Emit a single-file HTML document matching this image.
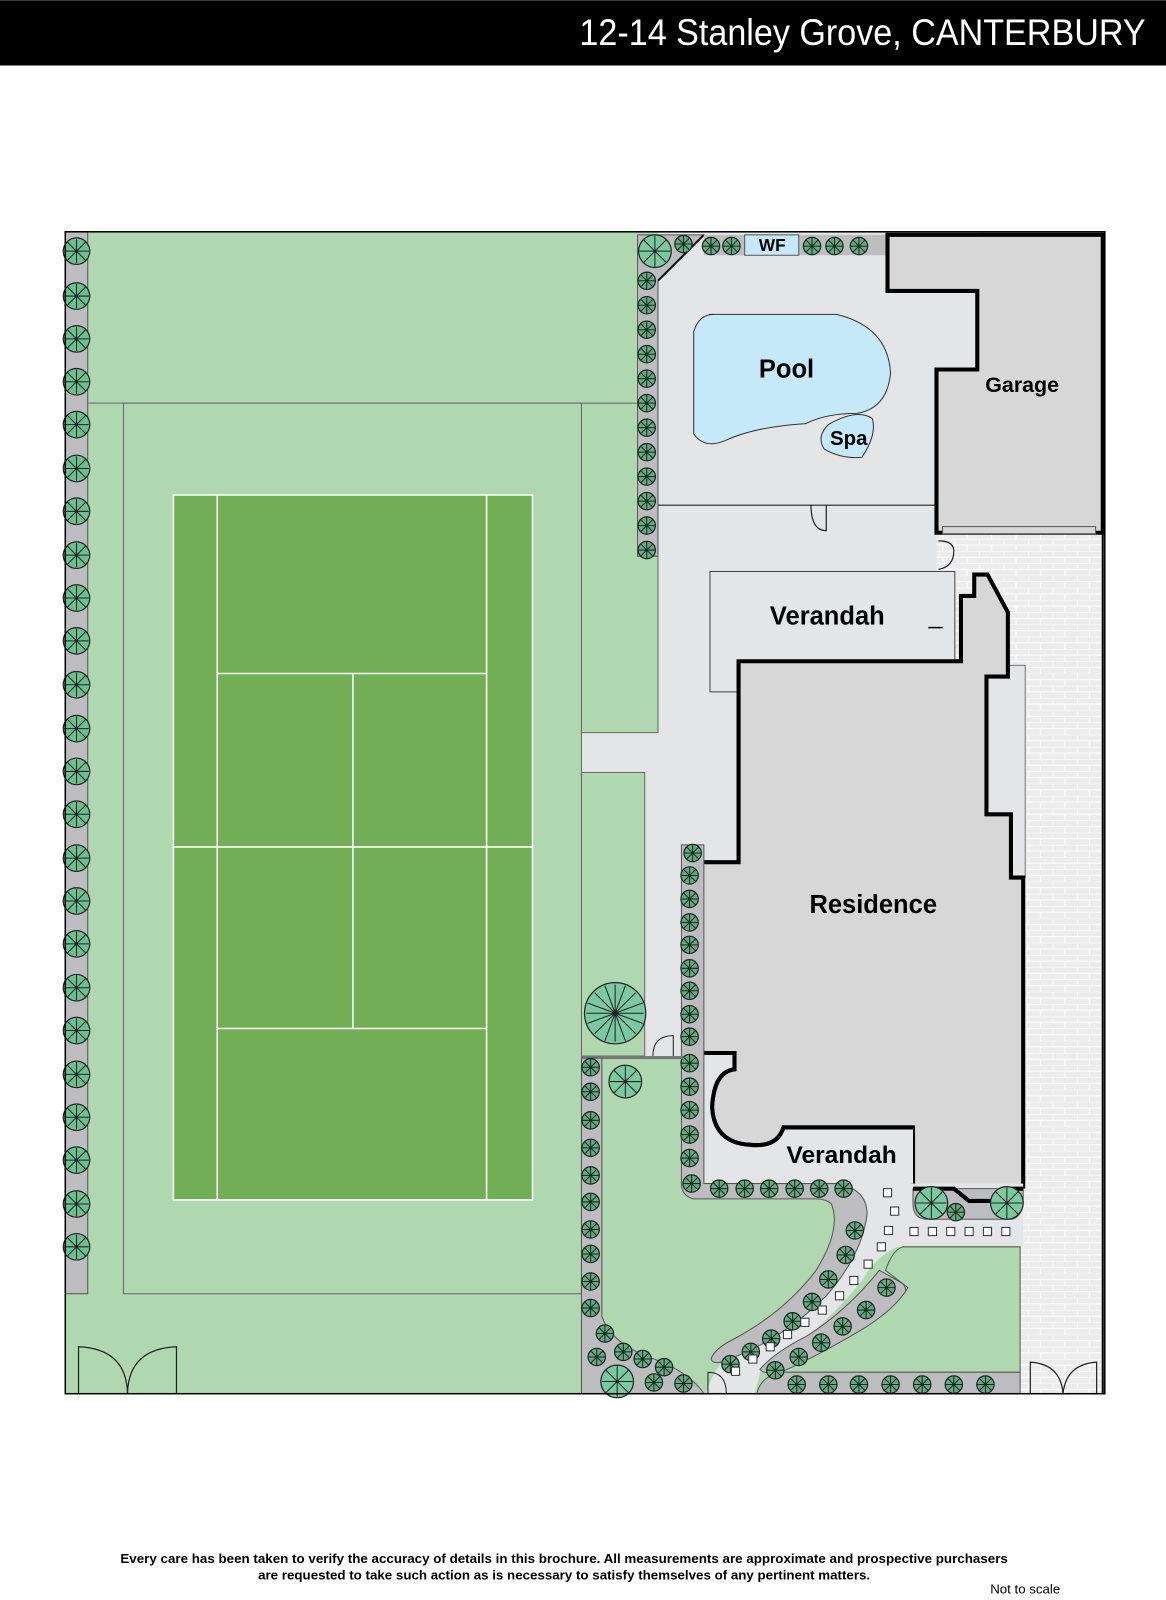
<!DOCTYPE html>
<html><head><meta charset="utf-8"><style>
html,body{margin:0;padding:0;background:#fff}
svg{display:block}
text{font-family:"Liberation Sans",sans-serif}
</style></head><body>
<svg width="1166" height="1600" viewBox="0 0 1143 1568" xmlns="http://www.w3.org/2000/svg">
<defs>
<g id="t"><circle r="8.5" fill="#5fae80" stroke="#222" stroke-width="1.2"/><path d="M0-8V8M-8 0H8M-6-6L6 6M-6 6L6-6" stroke="#222" stroke-width="1"/></g>
<g id="T"><circle r="30" fill="#7ac9a0" stroke="#222" stroke-width="1.2"/><path d="M0-28V28M-28 0H28M-20-20L20 20M-20 20L20-20M-10-27L10 27M-27-10L27 10M-27 10L27-10M-10 27L10-27" stroke="#222" stroke-width="1"/></g>
<g id="M"><circle r="16" fill="#7ac9a0" stroke="#222" stroke-width="1.2"/><path d="M0-15V15M-15 0H15M-11-11L11 11M-11 11L11-11" stroke="#222" stroke-width="1"/></g>
<g id="L"><circle r="13" fill="#6bbf90" stroke="#222" stroke-width="1.2"/><path d="M0-12V12M-12 0H12M-9-9L9 9M-9 9L9-9" stroke="#222" stroke-width="1"/></g>
<pattern id="brick" width="24" height="12" patternUnits="userSpaceOnUse"><rect width="24" height="12" fill="#ececed"/><path d="M0 0H24M0 6H24M0 0V6M12 6V12" stroke="#fff" stroke-width="1"/></pattern>
</defs>
<rect width="1143" height="64" fill="#000"/>
<text x="1123" y="44" fill="#fff" font-size="36" text-anchor="end" textLength="555" lengthAdjust="spacingAndGlyphs">12-14 Stanley Grove, CANTERBURY</text>

<rect x="64" y="227" width="1019" height="1139" fill="#b0d8b0"/>
<rect x="645" y="227" width="315" height="810" fill="#e4e5e6"/>
<rect x="668" y="1030" width="280" height="137" fill="#e4e5e6"/>
<rect x="570" y="718" width="100" height="40" fill="#e4e5e6"/>
<rect x="632" y="757" width="40" height="280" fill="#e4e5e6"/>
<rect x="918" y="522" width="165" height="844" fill="url(#brick)"/>
<line x1="645" y1="495" x2="918" y2="495" stroke="#222" stroke-width="1.2"/>
<path d="M795 495q0 25 15 25V495" fill="none" stroke="#222" stroke-width="1.2"/>
<path d="M920 530q15 0 15 10q0 15-15 18" fill="none" stroke="#222" stroke-width="1.2"/>
<rect x="64" y="227" width="22" height="1041" fill="#bdbdbf" stroke="#555" stroke-width="1"/>
<g>
<use href="#L" x="75" y="246"/><use href="#L" x="75" y="290"/><use href="#L" x="75" y="332"/><use href="#L" x="75" y="374"/><use href="#L" x="75" y="416"/><use href="#L" x="75" y="459"/><use href="#L" x="75" y="501"/><use href="#L" x="75" y="544"/><use href="#L" x="75" y="586"/><use href="#L" x="75" y="628"/><use href="#L" x="75" y="671"/><use href="#L" x="75" y="714"/><use href="#L" x="75" y="756"/><use href="#L" x="75" y="798"/><use href="#L" x="75" y="841"/><use href="#L" x="75" y="883"/><use href="#L" x="75" y="925"/><use href="#L" x="75" y="968"/><use href="#L" x="75" y="1010"/><use href="#L" x="75" y="1053"/><use href="#L" x="75" y="1095"/><use href="#L" x="75" y="1137"/><use href="#L" x="75" y="1180"/><use href="#L" x="75" y="1222"/>
</g>
<line x1="86" y1="395" x2="570" y2="395" stroke="#666" stroke-width="1"/>
<rect x="121" y="395" width="449" height="873" fill="#b0d8b0" stroke="#666" stroke-width="1"/>
<rect x="170" y="485" width="352" height="691" fill="#72ae55" stroke="#fff" stroke-width="1.5"/>
<g stroke="#fff" stroke-width="1.5">
<line x1="213" y1="485" x2="213" y2="1176"/><line x1="477" y1="485" x2="477" y2="1176"/>
<line x1="213" y1="660" x2="477" y2="660"/><line x1="170" y1="830" x2="522" y2="830"/><line x1="213" y1="1008" x2="477" y2="1008"/>
<line x1="346" y1="660" x2="346" y2="1008"/></g>
<rect x="570" y="395" width="75" height="323" fill="#b0d8b0" stroke="#666" stroke-width="1"/>
<rect x="570" y="757" width="62" height="278" fill="#b0d8b0" stroke="#666" stroke-width="1"/>
<use href="#T" x="603" y="993"/>
<path d="M640 1035q0-20 20-20V1035" fill="#e4e5e6" stroke="#222" stroke-width="1"/>
<path d="M625 230H690L645 275V545H625Z" fill="#bdbdbf" stroke="#555"/>
<path d="M690 230L645 275" stroke="#111" stroke-width="2"/>
<rect x="690" y="230" width="180" height="20" fill="#bdbdbf"/>
<rect x="730" y="230" width="53" height="20" fill="#c6e9fa" stroke="#555"/>
<text x="757" y="246" font-size="17" text-anchor="middle" font-weight="bold">WF</text>
<use href="#M" x="642" y="246"/>
<g><use href="#t" x="670" y="239"/><use href="#t" x="697" y="241"/><use href="#t" x="717" y="241"/><use href="#t" x="796" y="241"/><use href="#t" x="818" y="241"/><use href="#t" x="842" y="241"/>
<use href="#t" x="634" y="275"/><use href="#t" x="634" y="299"/><use href="#t" x="634" y="323"/><use href="#t" x="634" y="347"/><use href="#t" x="634" y="371"/><use href="#t" x="634" y="395"/><use href="#t" x="634" y="419"/><use href="#t" x="634" y="443"/><use href="#t" x="634" y="467"/><use href="#t" x="634" y="491"/><use href="#t" x="634" y="515"/><use href="#t" x="634" y="539"/></g>
<path d="M695 308H820Q870 320 873 365Q870 400 840 405Q810 405 790 415Q740 418 710 432Q690 440 680 425V325Q685 308 700 308Z" fill="#c6e9fa" stroke="#333" stroke-width="1"/>
<text x="771" y="370" font-size="25" text-anchor="middle" font-weight="bold">Pool</text>
<path d="M812 416Q840 400 855 410Q860 425 845 448Q825 450 808 440Q800 428 812 416Z" fill="#c6e9fa" stroke="#333" stroke-width="1"/>
<text x="832" y="436" font-size="20" text-anchor="middle" font-weight="bold">Spa</text>
<path d="M870 230H1081V522H918V362H958V285H870Z" fill="#d7d7d8" stroke="#000" stroke-width="4"/>
<rect x="924" y="516" width="150" height="7" fill="#d7d7d8" stroke="#555"/>
<text x="1002" y="384" font-size="21" text-anchor="middle" font-weight="bold">Garage</text>
<rect x="696" y="560" width="240" height="118" fill="#e4e5e6" stroke="#444" stroke-width="1"/>
<text x="811" y="612" font-size="25" text-anchor="middle" font-weight="bold">Verandah</text>
<rect x="967" y="652" width="38" height="208" fill="#e4e5e6" stroke="#777" stroke-width="1"/>
<path d="M724 648H942V584H955V563H968L988 600V663H967V798H991V860H1003V1163H990L975 1177H950L935 1163H895V1105H768Q762 1125 735 1122Q700 1120 698 1085Q700 1050 720 1048V1032H686V845H724Z" fill="#d7d7d8" stroke="#000" stroke-width="4"/>
<path d="M910 615H924" stroke="#000" stroke-width="1.5"/>
<text x="856" y="895" font-size="25" text-anchor="middle" font-weight="bold">Residence</text>
<path d="M686 1032H720V1048Q700 1050 698 1085Q700 1120 735 1122Q762 1125 768 1105H895V1160H686Z" fill="#e4e5e6"/>
<path d="M686 1032H720V1048Q700 1050 698 1085Q700 1120 735 1122Q762 1125 768 1105H895" fill="none" stroke="#000" stroke-width="4"/>
<text x="825" y="1140" font-size="24" text-anchor="middle" font-weight="bold">Verandah</text>
<!-- path area -->
<path d="M830 1160H1003V1222H880Q860 1230 845 1255Q800 1310 745 1345L740 1366H692Q700 1335 735 1310Q790 1270 815 1225Q830 1195 830 1160Z" fill="#e4e5e6"/>
<path d="M668 828H690V1160H820Q850 1165 850 1190Q845 1230 810 1270Q770 1310 720 1330Q700 1340 697 1332Q700 1322 720 1312Q770 1285 800 1245Q825 1205 815 1180Q810 1175 800 1175H680Q668 1172 668 1160Z" fill="#bdbdbf" stroke="#555"/>
<g><use href="#t" x="679" y="836"/><use href="#t" x="676" y="858"/><use href="#t" x="676" y="881"/><use href="#t" x="676" y="904"/><use href="#t" x="676" y="926"/><use href="#t" x="676" y="949"/><use href="#t" x="676" y="971"/><use href="#t" x="676" y="994"/><use href="#t" x="676" y="1016"/><use href="#t" x="676" y="1042"/><use href="#t" x="676" y="1065"/><use href="#t" x="676" y="1088"/><use href="#t" x="676" y="1112"/><use href="#t" x="676" y="1135"/><use href="#t" x="678" y="1160"/>
<use href="#t" x="705" y="1165"/><use href="#t" x="730" y="1165"/><use href="#t" x="754" y="1165"/><use href="#t" x="779" y="1165"/><use href="#t" x="803" y="1165"/><use href="#t" x="827" y="1165"/>
<use href="#t" x="838" y="1206"/><use href="#t" x="829" y="1230"/><use href="#t" x="812" y="1254"/><use href="#t" x="796" y="1276"/><use href="#t" x="777" y="1295"/><use href="#t" x="756" y="1312"/><use href="#t" x="736" y="1325"/><use href="#t" x="716" y="1337"/></g>
<path d="M885 1258Q895 1270 870 1290Q820 1325 780 1340Q750 1350 745 1342Q760 1325 790 1310Q830 1285 862 1245Z" fill="#bdbdbf" stroke="#555"/>
<path d="M885 1222H1000V1345H765Q800 1330 850 1300Q880 1280 890 1262L868 1245Q875 1225 885 1222Z" fill="#b0d8b0" stroke="#555"/>
<path d="M742 1366Q745 1350 765 1345H1000V1366Z" fill="#bdbdbf" stroke="#555"/>
<g><use href="#t" x="869" y="1262"/><use href="#t" x="849" y="1284"/><use href="#t" x="826" y="1300"/><use href="#t" x="805" y="1316"/><use href="#t" x="783" y="1330"/><use href="#t" x="760" y="1343"/>
<use href="#t" x="781" y="1357"/><use href="#t" x="812" y="1357"/><use href="#t" x="842" y="1357"/><use href="#t" x="873" y="1357"/><use href="#t" x="904" y="1357"/><use href="#t" x="935" y="1357"/><use href="#t" x="966" y="1357"/></g>
<rect x="570" y="1035" width="100" height="3" fill="#777"/>
<path d="M570 1037H590V1290Q600 1320 650 1335Q680 1350 690 1366H570Z" fill="#bdbdbf" stroke="#555"/>
<use href="#M" x="613" y="1060"/>
<g><use href="#t" x="579" y="1046"/><use href="#t" x="579" y="1070"/><use href="#t" x="579" y="1098"/><use href="#t" x="579" y="1125"/><use href="#t" x="579" y="1152"/><use href="#t" x="579" y="1178"/><use href="#t" x="579" y="1205"/><use href="#t" x="579" y="1229"/><use href="#t" x="579" y="1256"/><use href="#t" x="579" y="1282"/><use href="#t" x="593" y="1307"/><use href="#t" x="585" y="1330"/><use href="#t" x="611" y="1325"/><use href="#t" x="630" y="1332"/><use href="#t" x="651" y="1340"/><use href="#t" x="641" y="1355"/><use href="#t" x="670" y="1356"/></g>
<use href="#M" x="605" y="1354"/>
<path d="M895 1165H1003V1180Q1000 1195 990 1195H910Q895 1195 895 1180Z" fill="#bdbdbf" stroke="#555"/>
<path d="M895 1165H935L950 1177H975L990 1165H1003" fill="none" stroke="#000" stroke-width="4"/>
<use href="#M" x="913" y="1179"/><use href="#M" x="987" y="1179"/><use href="#t" x="937" y="1188"/>
<g fill="#fff" stroke="#333" stroke-width="1">
<rect x="866" y="1165" width="8" height="8"/><rect x="873" y="1183" width="8" height="8"/><rect x="867" y="1202" width="8" height="8"/><rect x="892" y="1203" width="8" height="8"/><rect x="910" y="1203" width="8" height="8"/><rect x="928" y="1203" width="8" height="8"/><rect x="946" y="1203" width="8" height="8"/><rect x="964" y="1203" width="8" height="8"/><rect x="982" y="1203" width="8" height="8"/>
<rect x="860" y="1218" width="8" height="8"/><rect x="847" y="1235" width="8" height="8"/><rect x="833" y="1251" width="8" height="8"/><rect x="819" y="1266" width="8" height="8"/><rect x="802" y="1280" width="8" height="8"/><rect x="785" y="1292" width="8" height="8"/><rect x="768" y="1304" width="8" height="8"/><rect x="751" y="1316" width="8" height="8"/><rect x="734" y="1328" width="8" height="8"/><rect x="717" y="1340" width="8" height="8"/></g>
<path d="M694 1366V1345Q712 1345 712 1366" fill="none" stroke="#222"/>
<g fill="none" stroke="#222" stroke-width="1.2">
<path d="M77 1366V1320Q124 1322 125 1366M173 1366V1320Q126 1322 125 1366"/>
<path d="M1010 1366V1335Q1040 1337 1042 1366M1075 1366V1335Q1045 1337 1042 1366"/></g>
<rect x="64" y="227" width="1019" height="1139" fill="none" stroke="#000" stroke-width="1.5"/>
<line x1="1081" y1="522" x2="1081" y2="1366" stroke="#000" stroke-width="2"/>
<text x="553" y="1532" font-size="13" font-weight="bold" text-anchor="middle" textLength="870" lengthAdjust="spacingAndGlyphs">Every care has been taken to verify the accuracy of details in this brochure.  All measurements are approximate and prospective purchasers</text>
<text x="553" y="1548" font-size="13" font-weight="bold" text-anchor="middle" textLength="600" lengthAdjust="spacingAndGlyphs">are requested to take such action as is necessary to satisfy themselves of any pertinent matters.</text>
<text x="1005" y="1562" font-size="13" text-anchor="middle">Not to scale</text>
</svg>
</body></html>
